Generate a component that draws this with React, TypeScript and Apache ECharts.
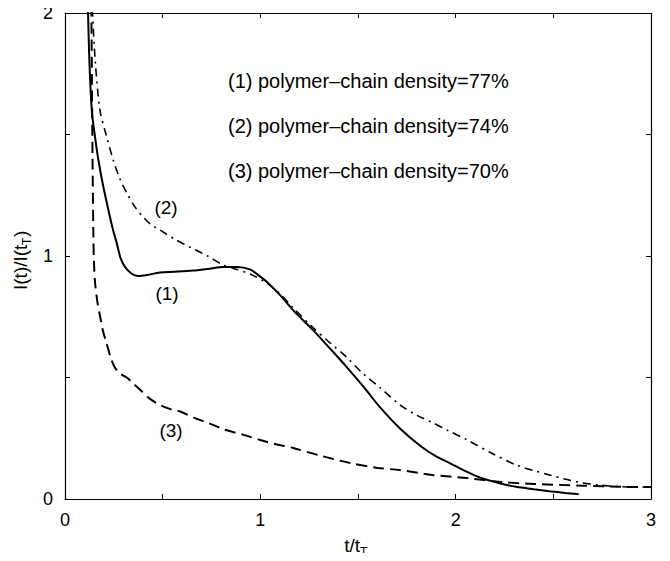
import React, { useEffect, useRef } from "react";
import * as echarts from "echarts";

const xTickLabels = ["0", "1", "2", "3"];
const yTickLabels = ["0", "1", "2"];
const legendLines = [
  "(1) polymer–chain density=77%",
  "(2) polymer–chain density=74%",
  "(3) polymer–chain density=70%",
];
const curveLabels = ["(1)", "(2)", "(3)"];

// (1) solid, density 77%
const curve1: [number, number][] = [
  [0.115, 2.1], [0.118, 2.0], [0.125, 1.8], [0.137, 1.6], [0.152, 1.5],
  [0.171, 1.395], [0.195, 1.29], [0.222, 1.19], [0.245, 1.11], [0.265, 1.053],
  [0.285, 0.99], [0.307, 0.955], [0.34, 0.928], [0.374, 0.918], [0.42, 0.922],
  [0.486, 0.932], [0.56, 0.935], [0.655, 0.94], [0.74, 0.948], [0.81, 0.955],
  [0.88, 0.955], [0.947, 0.945], [1.0, 0.915], [1.034, 0.893], [1.1, 0.84],
  [1.17, 0.775], [1.27, 0.695], [1.35, 0.625], [1.44, 0.545], [1.53, 0.46],
  [1.61, 0.38], [1.715, 0.29], [1.82, 0.218], [1.9, 0.175], [1.97, 0.148],
  [2.05, 0.115], [2.125, 0.088], [2.22, 0.066], [2.31, 0.05], [2.4, 0.04],
  [2.48, 0.032], [2.56, 0.025], [2.63, 0.02],
];

// (2) dash-dot, density 74%
const curve2: [number, number][] = [
  [0.138, 2.1], [0.141, 2.0], [0.155, 1.8], [0.179, 1.6], [0.21, 1.5],
  [0.247, 1.395], [0.28, 1.32], [0.316, 1.26], [0.36, 1.2], [0.4, 1.16],
  [0.44, 1.13], [0.486, 1.107], [0.56, 1.07], [0.655, 1.03], [0.73, 1.0],
  [0.81, 0.963], [0.86, 0.95], [0.95, 0.925], [1.03, 0.89], [1.1, 0.845],
  [1.17, 0.785], [1.27, 0.705], [1.36, 0.64], [1.44, 0.585], [1.52, 0.52],
  [1.61, 0.46], [1.715, 0.387], [1.8, 0.345], [1.88, 0.315], [1.96, 0.282],
  [2.06, 0.243], [2.18, 0.19], [2.31, 0.14], [2.4, 0.117], [2.48, 0.099],
  [2.56, 0.082], [2.65, 0.066], [2.74, 0.057], [2.83, 0.051], [2.92, 0.049],
  [3.0, 0.049],
];

// (3) dashed, density 70%
const curve3: [number, number][] = [
  [0.132, 2.1], [0.135, 2.0], [0.138, 1.7], [0.141, 1.4], [0.145, 1.1],
  [0.148, 0.98], [0.154, 0.89], [0.166, 0.81], [0.18, 0.75], [0.195, 0.69],
  [0.213, 0.64], [0.235, 0.58], [0.256, 0.54], [0.285, 0.515], [0.316, 0.5],
  [0.35, 0.475], [0.384, 0.45], [0.43, 0.415], [0.486, 0.387], [0.54, 0.37],
  [0.589, 0.36], [0.66, 0.335], [0.742, 0.31], [0.82, 0.285], [0.91, 0.265],
  [1.0, 0.243], [1.08, 0.225], [1.168, 0.21], [1.3, 0.18], [1.46, 0.148],
  [1.6, 0.128], [1.715, 0.119], [1.88, 0.099], [2.06, 0.086], [2.23, 0.07],
  [2.4, 0.062], [2.65, 0.055], [2.85, 0.05], [3.0, 0.049],
];

const FONT = "'Liberation Sans', Arial, Helvetica, sans-serif";

export default function App() {
  const ref = useRef<HTMLDivElement>(null);

  useEffect(() => {
    if (!ref.current) return;
    const chart = echarts.init(ref.current, null, { renderer: "svg" });

    const axisCommon = {
      type: "value" as const,
      interval: 0.5,
      axisLine: { show: true, onZero: false, lineStyle: { color: "#000", width: 1.2 } },
      axisTick: { show: true, inside: true, length: 5, lineStyle: { color: "#000", width: 1 } },
      splitLine: { show: false },
    };

    const xLabelFmt = (v: number) => {
      const i = Math.round(v);
      return Math.abs(v - i) < 1e-9 ? xTickLabels[i] ?? "" : "";
    };
    const yLabelFmt = (v: number) => {
      const i = Math.round(v);
      return Math.abs(v - i) < 1e-9 ? yTickLabels[i] ?? "" : "";
    };

    const lineSeries = (
      data: [number, number][],
      type: any,
      width: number,
      name: string
    ) => ({
      type: "line" as const,
      name,
      data,
      showSymbol: false,
      symbol: "none",
      smooth: 0.3,
      clip: true,
      lineStyle: { color: "#000", width, type },
    });

    const txt = (text: string, size: number, align: string) => ({
      text,
      fontSize: size,
      fontFamily: FONT,
      fill: "#000",
      align,
      verticalAlign: "middle",
    });

    chart.setOption({
      animation: false,
      backgroundColor: "#fff",
      grid: { left: 65, top: 13, right: 19, bottom: 62, containLabel: false },
      xAxis: [
        {
          ...axisCommon,
          position: "bottom",
          min: 0,
          max: 3,
          axisLabel: {
            show: true,
            formatter: xLabelFmt,
            color: "#000",
            fontSize: 18,
            fontFamily: FONT,
            margin: 12,
          },
        },
        {
          ...axisCommon,
          position: "top",
          min: 0,
          max: 3,
          axisLabel: { show: false },
        },
      ],
      yAxis: [
        {
          ...axisCommon,
          position: "left",
          min: 0,
          max: 2,
          axisLabel: {
            show: true,
            formatter: yLabelFmt,
            color: "#000",
            fontSize: 18,
            fontFamily: FONT,
            margin: 12,
          },
        },
        {
          ...axisCommon,
          position: "right",
          min: 0,
          max: 2,
          axisLabel: { show: false },
        },
      ],
      series: [
        lineSeries(curve1, "solid", 2, legendLines[0]),
        lineSeries(curve2, [8, 5, 2, 5], 1.6, legendLines[1]),
        lineSeries(curve3, [11, 6], 2, legendLines[2]),
      ],
      graphic: [
        ...legendLines.map((t, i) => ({
          type: "text",
          left: 228,
          top: 71 + i * 45,
          style: { text: t, fontSize: 20, fontFamily: FONT, fill: "#000" },
        })),
        { type: "text", x: 167, y: 293, style: txt(curveLabels[0], 19, "center") },
        { type: "text", x: 166, y: 207, style: txt(curveLabels[1], 19, "center") },
        { type: "text", x: 171, y: 430, style: txt(curveLabels[2], 19, "center") },
        // x axis name t/t_T
        { type: "text", x: 360, y: 545, style: txt("t/t", 19, "right") },
        { type: "text", x: 360, y: 552, style: txt("T", 12, "left") },
        // y axis name I(t)/I(t_T)
        {
          type: "group",
          x: 20,
          y: 259,
          rotation: Math.PI / 2,
          children: [
            { type: "text", x: -31, y: 0, style: txt("I(t)/I(t", 19, "left") },
            { type: "text", x: 14, y: 7, style: txt("T", 12, "left") },
            { type: "text", x: 22, y: 0, style: txt(")", 19, "left") },
          ],
        },
      ],
    });

    return () => chart.dispose();
  }, []);

  return <div ref={ref} style={{ width: 670, height: 561, margin: -8 }} />;
}
